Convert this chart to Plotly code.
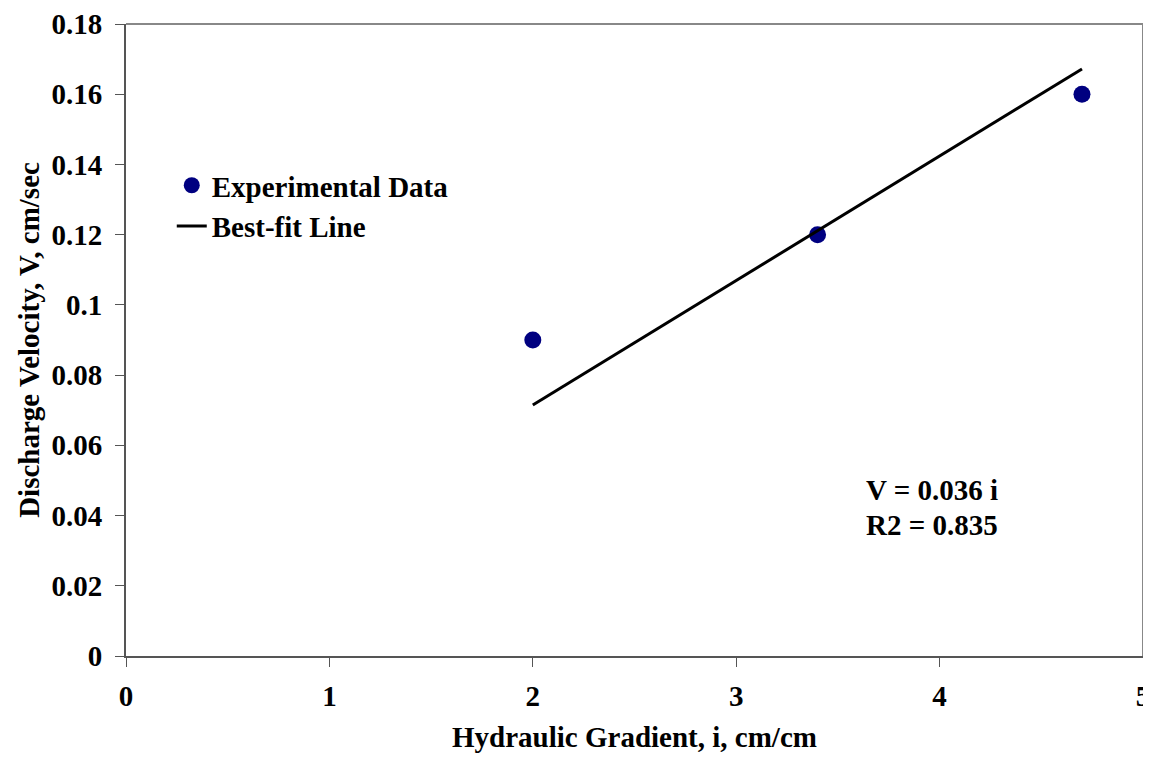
import plotly.graph_objects as go

# Data
gradient = [2.0, 3.4, 4.7]
velocity = [0.09, 0.12, 0.16]

fit_x = [2.0, 4.7]
fit_y = [0.0715, 0.1672]

x_ticks = [0, 1, 2, 3, 4, 5]
y_ticks = [0, 0.02, 0.04, 0.06, 0.08, 0.1, 0.12, 0.14, 0.16, 0.18]
y_tick_text = ["0", "0.02", "0.04", "0.06", "0.08", "0.1", "0.12", "0.14", "0.16", "0.18"]

FONT = "Liberation Serif"
FS = 29

fig = go.Figure()
fig.add_trace(go.Scatter(
    x=gradient, y=velocity, mode="markers", name="Experimental Data",
    marker=dict(color="#000080", size=17), legendgroup="a"))
fig.add_trace(go.Scatter(
    x=fit_x, y=fit_y, mode="lines", name="Best-fit Line",
    line=dict(color="black", width=3), legendgroup="b"))

axis_common = dict(
    showline=True, linecolor="#555555", linewidth=2,
    ticks="outside", ticklen=9, tickwidth=1, tickcolor="#555555",
    showgrid=False, zeroline=False, automargin=False,
    ticklabeloverflow="allow",
    tickfont=dict(family=FONT, size=FS, color="black", weight="bold"),
)

fig.update_layout(
    width=1151, height=745,
    margin=dict(l=118, r=16, t=16, b=97),
    plot_bgcolor="white", paper_bgcolor="white",
    font=dict(family=FONT, size=FS, color="black", weight="bold"),
    xaxis=dict(range=[0, 5], tickvals=x_ticks, ticklabelstandoff=4,
               title=dict(text="Hydraulic Gradient, i, cm/cm",
                          font=dict(family=FONT, size=FS, weight="bold"), standoff=26),
               **axis_common),
    yaxis=dict(range=[0, 0.18], tickvals=y_ticks, ticktext=y_tick_text, ticklabelstandoff=7,
               title=dict(text="Discharge Velocity, V, cm/sec",
                          font=dict(family=FONT, size=FS, weight="bold"), standoff=3),
               **axis_common),
    legend=dict(x=0.045, y=0.785, xanchor="left", yanchor="top",
                bgcolor="rgba(0,0,0,0)", tracegroupgap=0,
                font=dict(family=FONT, size=FS, weight="bold")),
    showlegend=True,
)

# top and right frame edges
fig.add_shape(type="line", xref="paper", yref="paper", x0=0, x1=1, y0=1, y1=1,
              line=dict(color="#888888", width=2))
fig.add_shape(type="line", xref="paper", yref="paper", x0=1, x1=1, y0=0, y1=1,
              line=dict(color="#888888", width=2))

fig.add_annotation(xref="paper", yref="paper", x=0.7256, y=0.262,
                   text="V = 0.036 i", showarrow=False, xanchor="left", yanchor="middle",
                   font=dict(family=FONT, size=FS, weight="bold"))
fig.add_annotation(xref="paper", yref="paper", x=0.7256, y=0.207,
                   text="R2 = 0.835", showarrow=False, xanchor="left", yanchor="middle",
                   font=dict(family=FONT, size=FS, weight="bold"))

fig.write_html("out.html")
